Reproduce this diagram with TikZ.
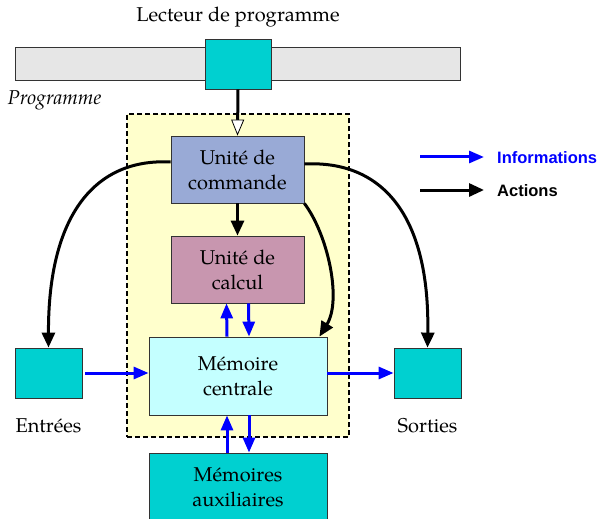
\documentclass[tikz,border=0pt]{standalone}
\usepackage{fontspec}
\setmainfont{texgyrepagella}[Extension=.otf, UprightFont=*-regular, ItalicFont=*-italic, BoldFont=*-bold]
\newfontfamily\legendfont{Liberation Sans}
\usetikzlibrary{arrows.meta}
\definecolor{barfill}{HTML}{E6E6E6}
\definecolor{cyanbox}{HTML}{00D0D0}
\definecolor{cmdfill}{HTML}{99AAD6}
\definecolor{calcfill}{HTML}{C896AF}
\definecolor{memfill}{HTML}{C4FFFF}
\definecolor{zonefill}{HTML}{FFFFCC}
\definecolor{edge}{HTML}{333333}
\definecolor{infoblue}{HTML}{0000FF}
\tikzset{
  unit/.style={draw=edge, line width=0.8pt, inner sep=0pt, align=center,
    font=\fontsize{20}{25}\selectfont},
  lbl/.style={inner sep=0pt, font=\fontsize{20}{25}\selectfont},
  act/.style={line width=3pt, -{Triangle[length=15pt,width=13pt]}},
  info/.style={line width=3pt, infoblue, -{Triangle[length=15pt,width=12pt]}},
  legendtext/.style={anchor=west, inner sep=0pt, font=\legendfont\bfseries\fontsize{16.5}{18}\selectfont},
}
\begin{document}
\begin{tikzpicture}[x=1pt,y=-1pt]
\useasboundingbox (0,0) rectangle (598,519);

% program tape and its reader
\node[lbl] (lecteur) at (238,17) {Lecteur de programme};
\node[draw=edge, fill=barfill, line width=0.8pt, minimum width=445pt, minimum height=33pt, inner sep=0pt] (bande) at (237.5,63.5) {};
\node[unit, fill=cyanbox, minimum width=66pt, minimum height=50pt] (tete) at (238,64) {};
\node[lbl, font=\fontsize{20}{25}\selectfont\itshape] (prog) at (54.5,100) {Programme};

% central unit zone
\node[draw, dash pattern=on 5pt off 3pt, line width=1.1pt, fill=zonefill, minimum width=222pt, minimum height=323pt, inner sep=0pt] (zone) at (238,275.5) {};

\node[unit, fill=cmdfill, minimum width=133pt, minimum height=67pt] (cmd) at (237.5,169.5) {Unité de\\commande};
\node[unit, fill=calcfill, minimum width=133pt, minimum height=67pt] (calc) at (237.5,269.5) {Unité de\\calcul};
\node[unit, fill=memfill, minimum width=178pt, minimum height=78pt] (mem) at (238,376) {Mémoire\\centrale};
\node[unit, fill=cyanbox, minimum width=178pt, minimum height=80pt] (aux) at (238,493) {};
\node[lbl, align=center] (auxtxt) at (238,487) {Mémoires\\auxiliaires};

% inputs and outputs
\node[unit, fill=cyanbox, minimum width=67pt, minimum height=50pt] (entrees) at (48.5,373) {};
\node[unit, fill=cyanbox, minimum width=67pt, minimum height=50pt] (sorties) at (427.5,373) {};
\node[lbl] (entxt) at (48.5,426) {Entrées};
\node[lbl] (sortxt) at (427.5,426) {Sorties};

% control flow
\draw[line width=3pt, -{Triangle[open, fill=white, length=16pt, width=13pt, line width=0.8pt]}] (tete.south) -- (cmd.north);
\draw[act] (cmd.south) -- (calc.north);
\draw[act] (cmd.west |- 0,162) .. controls (95,158) and (48,215) .. (entrees.north);
\draw[act] (cmd.east |- 0,164) .. controls (382,160) and (430,215) .. (sorties.north);
\draw[act] (cmd.south east) .. controls (328,235) and (342,300) .. ([xshift=-8pt]mem.north east);

% data flow
\draw[info] ([xshift=-11pt]mem.north) -- ([xshift=-11pt]calc.south);
\draw[info] ([xshift=11pt]calc.south) -- ([xshift=11pt]mem.north);
\draw[info] ([xshift=-11pt]aux.north) -- ([xshift=-11pt]mem.south);
\draw[info] ([xshift=11pt]mem.south) -- ([xshift=11pt]aux.north);
\draw[info] ([xshift=3pt]entrees.east) -- (mem.west |- entrees.east);
\draw[info] (mem.east |- sorties.west) -- (sorties.west);

% legend
\coordinate (li0) at (420,157);
\coordinate (li1) at (484,157);
\coordinate (la0) at (420,190);
\coordinate (la1) at (484,190);
\draw[info] (li0) -- (li1);
\draw[act] (la0) -- (la1);
\node[legendtext, text=infoblue] (linfo) at (497,158) {Informations};
\node[legendtext] (lact) at (497,191) {Actions};
\end{tikzpicture}
\end{document}
